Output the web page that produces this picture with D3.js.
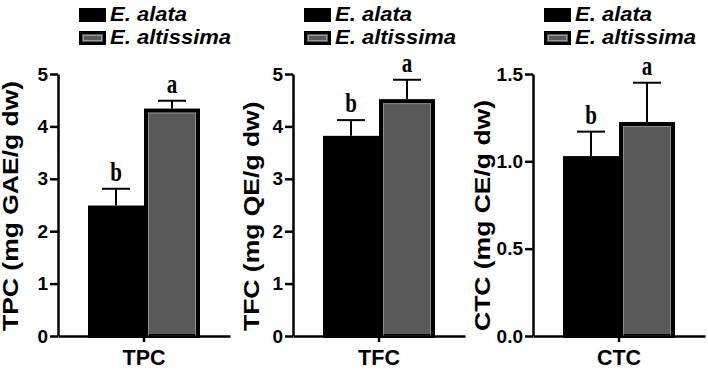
<!DOCTYPE html>
<html>
<head>
<meta charset="utf-8">
<script src="https://cdn.jsdelivr.net/npm/d3@7"></script>
<style>
  body { margin: 0; background: #fff; }
  svg { display: block; }
  text { font-family: "Liberation Sans", Arial, sans-serif; font-weight: bold; fill: #000; }
</style>
</head>
<body>
<svg id="chart" width="708" height="371"></svg>
<script>
// data
const categories = ["TPC", "TFC", "CTC"];
const yTitles = ["TPC (mg GAE/g dw)", "TFC (mg QE/g dw)", "CTC (mg CE/g dw)"];
const species = ["E. alata", "E. altissima"];
const alataMean = [2.49, 3.82, 1.03];
const alataErr = [0.32, 0.30, 0.14];
const altissimaMean = [4.34, 4.52, 1.225];
const altissimaErr = [0.15, 0.37, 0.225];
const yMax = [5, 5, 1.5];
const yTicks = [[0, 1, 2, 3, 4, 5], [0, 1, 2, 3, 4, 5], [0, 0.5, 1.0, 1.5]];
const tickFormats = ["d", "d", ".1f"];
const letters = [["b", "a"], ["b", "a"], ["b", "a"]];

const svg = d3.select("#chart");
const colors = ["#000000", "#595959"];

// panel layout
const axisX = [58, 293, 533];
const legendX = [79, 304, 544];
const titleX = [18, 259, 490];
const plotTop = 74, plotBottom = 336, plotW = 172;

categories.forEach((cat, i) => {
  const g = svg.append("g");

  const y = d3.scaleLinear().domain([0, yMax[i]]).range([plotBottom, plotTop]);
  const xOuter = d3.scaleBand().domain([cat]).range([axisX[i], axisX[i] + plotW]);
  const x = d3.scaleBand().domain(species).range([axisX[i] + 30, axisX[i] + 142]).padding(0);

  const rows = [
    {sp: species[0], mean: alataMean[i], err: alataErr[i], letter: letters[i][0]},
    {sp: species[1], mean: altissimaMean[i], err: altissimaErr[i], letter: letters[i][1]}
  ];

  // bars (stroke kept inside the value line)
  g.selectAll("rect.bar")
    .data(rows)
    .join("rect")
    .attr("class", "bar")
    .attr("x", d => x(d.sp) + 2)
    .attr("y", d => y(d.mean) + 2)
    .attr("width", x.bandwidth() - 4)
    .attr("height", d => y(0) - y(d.mean) - 2)
    .attr("fill", (d, j) => colors[j])
    .attr("stroke", "#000")
    .attr("stroke-width", 4);

  // faint inner edge on grey bar
  g.append("rect")
    .attr("x", x(species[1]) + 4.5)
    .attr("y", y(rows[1].mean) + 4.5)
    .attr("width", x.bandwidth() - 9)
    .attr("height", y(0) - y(rows[1].mean) - 4.5)
    .attr("fill", "none")
    .attr("stroke", "#8c8c8c")
    .attr("stroke-width", 1);

  // error bars (upper only)
  const eb = g.selectAll("g.err")
    .data(rows)
    .join("g")
    .attr("class", "err")
    .attr("stroke", "#000")
    .attr("stroke-width", 2);
  eb.append("line")
    .attr("x1", d => x(d.sp) + x.bandwidth() / 2)
    .attr("x2", d => x(d.sp) + x.bandwidth() / 2)
    .attr("y1", d => y(d.mean))
    .attr("y2", d => y(d.mean + d.err));
  eb.append("line")
    .attr("x1", d => x(d.sp) + x.bandwidth() / 2 - 14)
    .attr("x2", d => x(d.sp) + x.bandwidth() / 2 + 14)
    .attr("y1", d => y(d.mean + d.err))
    .attr("y2", d => y(d.mean + d.err));

  // significance letters
  g.selectAll("g.letter")
    .data(rows)
    .join("g")
    .attr("class", "letter")
    .attr("transform", d => `translate(${x(d.sp) + x.bandwidth() / 2},${y(d.mean + d.err) - 8}) scale(1,1.3)`)
    .append("text")
    .attr("text-anchor", "middle")
    .style("font-family", "'Liberation Serif', 'DejaVu Serif', serif")
    .style("font-size", "21px")
    .text(d => d.letter);

  // y axis
  const yAxis = g.append("g")
    .attr("transform", `translate(${axisX[i]},0)`)
    .call(d3.axisLeft(y).tickValues(yTicks[i]).tickFormat(d3.format(tickFormats[i]))
      .tickSize(8).tickSizeOuter(0).tickPadding(2));
  yAxis.select(".domain").attr("stroke-width", 2.5);
  yAxis.selectAll(".tick line").attr("stroke-width", 2.5);
  yAxis.selectAll(".tick text").style("font-size", "19px").style("font-family", "'Liberation Sans', Arial, sans-serif");

  // x axis
  const xAxis = g.append("g")
    .attr("transform", `translate(0,${plotBottom})`)
    .call(d3.axisBottom(xOuter).tickSize(6).tickSizeOuter(0).tickPadding(8));
  xAxis.select(".domain").attr("stroke-width", 2.5);
  xAxis.selectAll(".tick line").attr("stroke-width", 2.5);
  xAxis.selectAll(".tick text").style("font-size", "21.5px").style("font-family", "'Liberation Sans', Arial, sans-serif");

  // y title
  g.append("g")
    .attr("transform", `translate(${titleX[i]},331) rotate(-90) scale(1,0.8)`)
    .append("text")
    .attr("text-anchor", "start")
    .style("font-size", "26.5px")
    .text(yTitles[i]);

  // legend
  const lg = g.selectAll("g.legend")
    .data(species)
    .join("g")
    .attr("class", "legend")
    .attr("transform", (d, j) => `translate(${legendX[i]},${j * 23})`);
  lg.append("rect")
    .attr("x", 1.5)
    .attr("y", 9.5)
    .attr("width", 24)
    .attr("height", 11)
    .attr("fill", (d, j) => colors[j])
    .attr("stroke", "#000")
    .attr("stroke-width", 3);
  lg.filter((d, j) => j === 1).append("rect")
    .attr("x", 4.5).attr("y", 12.5).attr("width", 18).attr("height", 5)
    .attr("fill", "none").attr("stroke", "#9a9a9a").attr("stroke-width", 1);
  lg.append("g")
    .attr("transform", "translate(31,21) scale(1,0.88)")
    .append("text")
    .style("font-size", "22px")
    .style("font-style", "italic")
    .text(d => d);
});
</script>
</body>
</html>
